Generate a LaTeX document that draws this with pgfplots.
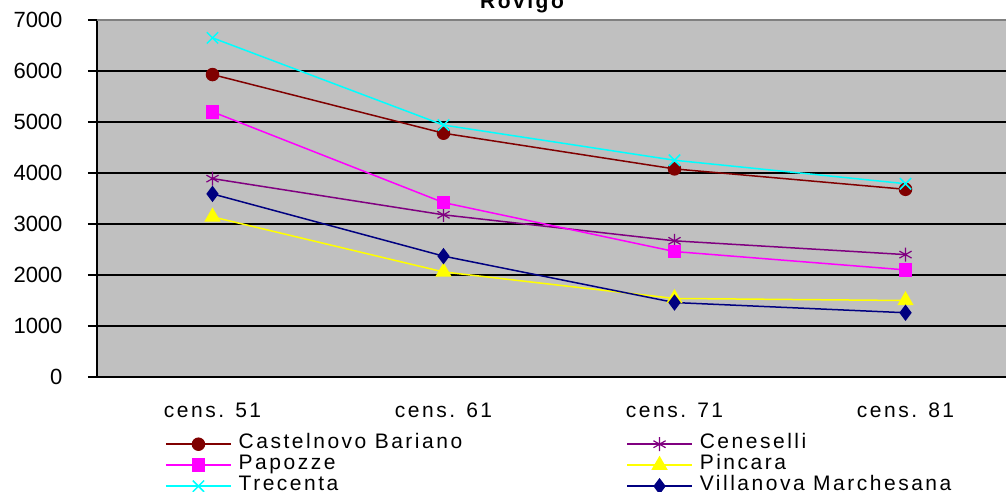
\documentclass[border=0pt]{standalone}
\usepackage{fontspec}
\setmainfont[LetterSpace=12]{Liberation Sans}
\newfontfamily\numfont{Liberation Sans}
\usepackage{pgfplots}
\pgfplotsset{compat=1.18}
\definecolor{plotbg}{HTML}{C0C0C0}
\definecolor{castel}{HTML}{800000}
\definecolor{cenes}{HTML}{800080}
\definecolor{papoz}{HTML}{FF00FF}
\definecolor{pinca}{HTML}{FFFF00}
\definecolor{trece}{HTML}{00FFFF}
\definecolor{villa}{HTML}{000080}
\begin{document}
\begin{tikzpicture}
\useasboundingbox (0pt,0pt) rectangle (1006pt,492pt);
\clip (0pt,0pt) rectangle (1006pt,492pt);
\begin{axis}[
    at={(97pt,115pt)}, anchor=south west,
    scale only axis, width=924pt, height=357pt,
    xmin=-0.5, xmax=3.5,
    ymin=0, ymax=7000,
    axis background/.style={fill=plotbg},
    axis x line*=bottom, axis y line*=left,
    axis line style={black, line width=1.5pt},
    ytick={0,1000,...,7000},
    ymajorgrids=true,
    major grid style={black, line width=1.2pt},
    xtick={0,1,2,3},
    xticklabels={cens. 51, cens. 61, cens. 71, cens. 81},
    major x tick style={draw=none},
    extra x ticks={-0.5,0.5,1.5,2.5,3.5},
    extra x tick labels={},
    extra x tick style={major tick length=7pt, tick style={black, line width=1.2pt}},
    tick align=outside,
    major tick length=9pt,
    tick style={black, line width=1.2pt},
    xticklabel style={font=\fontsize{21}{21}\selectfont, text height=15pt, text depth=0pt, anchor=north, yshift=-13pt},
    yticklabel style={font=\numfont\fontsize{22}{22}\selectfont, anchor=east, xshift=-22pt},
    /pgf/number format/assume math mode=true,
    /pgf/number format/1000 sep={},
    legend columns=2,
    legend cell align=left,
    legend image code/.code={\draw[mark repeat=2,mark phase=2,#1] plot coordinates {(0pt,0pt) (32.5pt,0pt) (65pt,0pt)};},
    legend style={at={(0.0736,-0.1583)}, anchor=north west, draw=none, fill=none,
        inner sep=0pt, font=\fontsize{21}{21}\selectfont,
        nodes={inner sep=0pt, text height=15pt, text depth=6pt, anchor=west},
        column sep=7pt, row sep=0pt,
        /tikz/every even column/.append style={column sep=164pt}},
]
\addplot[color=castel, line width=1.5pt, mark=*, mark size=6pt, mark options={solid}]
    coordinates {(0,5930) (1,4780) (2,4080) (3,3680)};
\addlegendentry{Castelnovo Bariano}
\addplot[color=cenes, line width=1.5pt, mark=asterisk, mark size=7pt, mark options={line width=1.2pt}]
    coordinates {(0,3890) (1,3180) (2,2670) (3,2400)};
\addlegendentry{Ceneselli}
\addplot[color=papoz, line width=1.5pt, mark=square*, mark size=6pt]
    coordinates {(0,5200) (1,3420) (2,2460) (3,2100)};
\addlegendentry{Papozze}
\addplot[color=pinca, line width=1.5pt, mark=triangle*, mark size=8pt]
    coordinates {(0,3140) (1,2060) (2,1540) (3,1500)};
\addlegendentry{Pincara}
\addplot[color=trece, line width=1.5pt, mark=x, mark size=8pt, mark options={line width=1.5pt}]
    coordinates {(0,6650) (1,4940) (2,4250) (3,3790)};
\addlegendentry{Trecenta}
\addplot[color=villa, line width=1.5pt, mark=diamond*, mark size=7pt]
    coordinates {(0,3590) (1,2370) (2,1460) (3,1260)};
\addlegendentry{Villanova Marchesana}
\draw[color=gray, line width=2pt] (rel axis cs:0,1) -- (rel axis cs:1,1);
\end{axis}
\node[font=\bfseries\fontsize{21}{21}\selectfont, anchor=base] at (522pt,483pt) {Rovigo};
\end{tikzpicture}
\end{document}
